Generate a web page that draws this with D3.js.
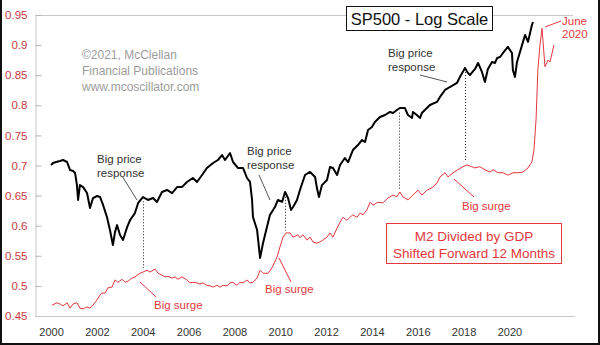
<!DOCTYPE html>
<html><head><meta charset="utf-8">
<script src="https://cdn.jsdelivr.net/npm/d3@7"></script>
<style>
body{margin:0;background:#fff}
svg{display:block;font-family:"Liberation Sans",Arial,sans-serif}
</style>
</head><body>
<svg id="c" width="600" height="345"></svg>
<script>
// ---------- data ----------
const yearTicks = [2000,2002,2004,2006,2008,2010,2012,2014,2016,2018,2020];
const ratioTicks = [0.45,0.5,0.55,0.6,0.65,0.7,0.75,0.8,0.85,0.9,0.95];

// SP500 (log scale, no axis shown)
const spDates = [2000.00,2000.09,2000.22,2000.39,2000.52,2000.70,2000.83,2000.96,2001.05,2001.13,2001.18,2001.26,2001.40,2001.57,2001.70,2001.83,2002.01,2002.14,2002.27,2002.44,2002.57,2002.70,2002.79,2002.88,2003.01,2003.14,2003.32,2003.45,2003.66,2003.80,2004.01,2004.23,2004.45,2004.62,2004.84,2005.06,2005.28,2005.50,2005.71,2005.93,2006.19,2006.37,2006.59,2006.80,2007.07,2007.28,2007.46,2007.59,2007.81,2007.94,2008.16,2008.38,2008.55,2008.68,2008.77,2008.81,2008.99,2009.12,2009.25,2009.42,2009.55,2009.77,2009.90,2010.08,2010.21,2010.34,2010.47,2010.56,2010.73,2010.86,2011.08,2011.30,2011.52,2011.60,2011.69,2011.82,2012.04,2012.17,2012.30,2012.48,2012.61,2012.82,2012.96,2013.17,2013.39,2013.57,2013.70,2013.83,2014.00,2014.13,2014.35,2014.57,2014.79,2014.92,2015.09,2015.22,2015.44,2015.57,2015.75,2015.79,2015.96,2016.10,2016.18,2016.31,2016.53,2016.84,2016.97,2017.19,2017.40,2017.71,2017.84,2018.06,2018.19,2018.28,2018.50,2018.63,2018.80,2018.93,2019.06,2019.24,2019.37,2019.46,2019.59,2019.72,2019.93,2020.11,2020.15,2020.24,2020.33,2020.46,2020.59,2020.68,2020.81,2020.98,2021.03];
const spValues = [1470,1490,1500,1510,1520,1500,1422,1413,1394,1287,1166,1287,1270,1221,1106,1181,1197,1189,1128,1041,955,865,942,987,924,894,974,1021,1069,1143,1189,1166,1181,1151,1229,1246,1221,1270,1270,1314,1349,1314,1376,1441,1490,1520,1571,1520,1592,1500,1441,1441,1349,1314,1166,1041,955,794,877,974,1055,1113,1166,1151,1229,1181,1091,1113,1166,1246,1376,1404,1358,1262,1189,1287,1331,1451,1441,1376,1470,1540,1500,1624,1679,1736,1713,1855,1892,1956,2022,2049,2091,2077,2118,2146,2146,2049,2009,2091,2049,2009,2077,2118,2190,2235,2310,2419,2467,2534,2637,2799,2708,2672,2781,2894,2726,2551,2781,2913,2894,2990,3010,3092,3219,3092,2762,2637,2913,3113,3328,3485,3328,3722,3797];

// M2 divided by GDP, shifted forward 12 months (left axis)
const m2Dates = [2000.04,2000.26,2000.39,2000.52,2000.70,2000.83,2000.96,2001.13,2001.26,2001.40,2001.57,2001.70,2001.83,2002.01,2002.14,2002.22,2002.36,2002.49,2002.66,2002.79,2002.92,2003.10,2003.23,2003.36,2003.53,2003.66,2003.88,2004.01,2004.19,2004.32,2004.54,2004.67,2004.84,2004.97,2005.10,2005.28,2005.41,2005.54,2005.71,2005.93,2006.06,2006.19,2006.37,2006.50,2006.63,2006.80,2006.94,2007.07,2007.24,2007.37,2007.50,2007.68,2007.81,2007.94,2008.11,2008.24,2008.38,2008.55,2008.68,2008.81,2008.99,2009.12,2009.25,2009.47,2009.64,2009.86,2009.99,2010.12,2010.25,2010.43,2010.56,2010.77,2010.86,2010.99,2011.17,2011.30,2011.43,2011.60,2011.73,2011.86,2012.04,2012.17,2012.30,2012.48,2012.61,2012.74,2012.91,2013.04,2013.17,2013.35,2013.48,2013.61,2013.78,2013.92,2014.05,2014.26,2014.48,2014.70,2014.92,2015.09,2015.22,2015.35,2015.57,2015.79,2016.01,2016.18,2016.40,2016.62,2016.84,2016.97,2017.19,2017.32,2017.54,2017.75,2017.97,2018.15,2018.36,2018.49,2018.71,2018.93,2019.15,2019.28,2019.50,2019.72,2019.93,2020.15,2020.37,2020.59,2020.81,2020.98,2021.07,2021.16,2021.24,2021.33,2021.42,2021.55,2021.68,2021.77,2021.94];
const m2Values = [0.468,0.472,0.470,0.467,0.472,0.463,0.470,0.472,0.463,0.462,0.465,0.463,0.468,0.477,0.485,0.488,0.488,0.497,0.498,0.510,0.506,0.511,0.506,0.508,0.513,0.515,0.521,0.523,0.526,0.523,0.528,0.521,0.518,0.515,0.516,0.513,0.515,0.511,0.515,0.510,0.505,0.506,0.505,0.503,0.505,0.501,0.500,0.498,0.501,0.498,0.501,0.500,0.505,0.506,0.501,0.506,0.505,0.510,0.505,0.506,0.513,0.526,0.521,0.521,0.530,0.548,0.565,0.581,0.588,0.588,0.581,0.585,0.580,0.585,0.576,0.581,0.573,0.571,0.573,0.576,0.581,0.588,0.581,0.596,0.606,0.614,0.609,0.614,0.618,0.614,0.621,0.618,0.626,0.639,0.634,0.639,0.638,0.646,0.651,0.648,0.656,0.648,0.643,0.651,0.659,0.651,0.659,0.663,0.671,0.681,0.688,0.681,0.688,0.693,0.698,0.701,0.698,0.696,0.698,0.693,0.689,0.693,0.688,0.688,0.684,0.688,0.688,0.689,0.696,0.706,0.726,0.776,0.859,0.900,0.928,0.864,0.875,0.872,0.900];

// dates where price response is linked to the M2 surge
const linkDates = [2004.0, 2010.2, 2015.18, 2018.06];

// ---------- drawing ----------
const W = 600, H = 345;
const RED = "#e2383e";
const svg = d3.select("#c");

const x = d3.scaleLinear().domain([1999.3, 2022.86]).range([35, 575]);
const yL = d3.scaleLinear().domain([0.45, 0.95]).range([316, 15]);
const yS = d3.scaleLog().domain([783, 3848]).range([260, 20]);

svg.append("rect").attr("width", W).attr("height", H).attr("fill", "#fff");

// frame
svg.append("path").attr("d", "M1,0V344H599V0").attr("fill", "none")
  .attr("stroke", "#111").attr("stroke-width", 2);

// plot top & bottom lines
svg.append("line").attr("x1", 35).attr("x2", 573).attr("y1", 15.5).attr("y2", 15.5)
  .attr("stroke", "#c8c8c8");

// y axis
const gy = svg.append("g").attr("transform", "translate(35.5,0)")
  .call(d3.axisLeft(yL).tickValues(ratioTicks).tickSize(-6).tickPadding(8)
    .tickFormat(d => String(+d.toFixed(2))));
gy.select(".domain").attr("stroke", "#c8c8c8");
gy.selectAll(".tick line").attr("stroke", "#b8b8b8");
gy.selectAll("text").attr("fill", "#c83a3f").style("font-size", "11.5px")
  .style("font-family", '"Liberation Sans",Arial,sans-serif');

// x axis
const gx = svg.append("g").attr("transform", "translate(0,316.5)")
  .call(d3.axisBottom(x).tickValues(yearTicks).tickSize(0).tickPadding(12)
    .tickFormat(d3.format("d")));
gx.select(".domain").attr("d", "M35,0H575").attr("stroke", "#c8c8c8");
gx.selectAll("text").attr("fill", "#333").style("font-size", "11px")
  .style("font-family", '"Liberation Sans",Arial,sans-serif');

// copyright
const cp = ["\u00A92021, McClellan", "Financial Publications", "www.mcoscillator.com"];
svg.append("g").selectAll("text").data(cp).join("text")
  .attr("x", 82).attr("y", (d, i) => 59 + i * 15.8)
  .attr("fill", "#9c9c9c").style("font-size", "12px").text(d => d);

// title box
svg.append("rect").attr("x", 346.5).attr("y", 6.5).attr("width", 146).attr("height", 24)
  .attr("fill", "#fff").attr("stroke", "#111").attr("stroke-width", 1);
svg.append("text").attr("x", 419.5).attr("y", 25).attr("text-anchor", "middle")
  .attr("fill", "#111").style("font-size", "16.5px").text("SP500 - Log Scale");

// dotted link lines
function interpAt(ds, vs, d) {
  const i = d3.bisectLeft(ds, d);
  if (i <= 0) return vs[0];
  if (i >= ds.length) return vs[vs.length - 1];
  const t = (d - ds[i - 1]) / (ds[i] - ds[i - 1]);
  return vs[i - 1] + t * (vs[i] - vs[i - 1]);
}
svg.append("g").selectAll("line").data(linkDates).join("line")
  .attr("x1", d => Math.round(x(d)) + 0.5).attr("x2", d => Math.round(x(d)) + 0.5)
  .attr("y1", d => yS(interpAt(spDates, spValues, d)) + 4)
  .attr("y2", d => yL(interpAt(m2Dates, m2Values, d)) - 4)
  .attr("stroke", "#222").attr("stroke-width", 1).attr("stroke-dasharray", "1,2");

// M2 line
svg.append("path").datum(d3.zip(m2Dates, m2Values))
  .attr("fill", "none").attr("stroke", RED).attr("stroke-width", 1)
  .attr("stroke-linejoin", "round")
  .attr("d", d3.line().x(d => x(d[0])).y(d => yL(d[1])));

// SP500 line
svg.append("path").datum(d3.zip(spDates, spValues))
  .attr("fill", "none").attr("stroke", "#000").attr("stroke-width", 2)
  .attr("stroke-linejoin", "round")
  .attr("d", d3.line().x(d => x(d[0])).y(d => yS(d[1])));

// annotations: "Big price response"
const priceNotes = [
  {tx: 97, ty: 163, l: [122, 176, 137, 200]},
  {tx: 247, ty: 155, l: [259, 175, 270, 200]},
  {tx: 388, ty: 57, l: [420, 75, 447, 82]}
];
const pn = svg.append("g");
priceNotes.forEach(n => {
  pn.append("text").attr("x", n.tx).attr("y", n.ty).attr("fill", "#333")
    .style("font-size", "11.5px").text("Big price");
  pn.append("text").attr("x", n.tx).attr("y", n.ty + 13.5).attr("fill", "#333")
    .style("font-size", "11.5px").text("response");
  pn.append("line").attr("x1", n.l[0]).attr("y1", n.l[1]).attr("x2", n.l[2]).attr("y2", n.l[3])
    .attr("stroke", "#555").attr("stroke-width", 1);
});

// annotations: "Big surge"
const surgeNotes = [
  {tx: 154, ty: 309, l: [140, 282, 156, 297]},
  {tx: 265, ty: 293, l: [279, 258, 291, 282]},
  {tx: 462, ty: 210, l: [454, 179, 474, 197]}
];
const sn = svg.append("g");
surgeNotes.forEach(n => {
  sn.append("text").attr("x", n.tx).attr("y", n.ty).attr("fill", RED)
    .style("font-size", "11.5px").text("Big surge");
  sn.append("line").attr("x1", n.l[0]).attr("y1", n.l[1]).attr("x2", n.l[2]).attr("y2", n.l[3])
    .attr("stroke", RED).attr("stroke-width", 1);
});

// legend box
svg.append("rect").attr("x", 386.5).attr("y", 223.5).attr("width", 175).attr("height", 40)
  .attr("fill", "#fff").attr("stroke", RED).attr("stroke-width", 1);
svg.append("text").attr("x", 474).attr("y", 241).attr("text-anchor", "middle")
  .attr("fill", RED).style("font-size", "13.5px").text("M2 Divided by GDP");
svg.append("text").attr("x", 474).attr("y", 258).attr("text-anchor", "middle")
  .attr("fill", RED).style("font-size", "13.5px").text("Shifted Forward 12 Months");

// June 2020 note
svg.append("line").attr("x1", 545).attr("y1", 27).attr("x2", 561).attr("y2", 21)
  .attr("stroke", RED).attr("stroke-width", 1);
svg.append("text").attr("x", 562).attr("y", 25).attr("fill", RED)
  .style("font-size", "11.5px").text("June");
svg.append("text").attr("x", 562).attr("y", 38).attr("fill", RED)
  .style("font-size", "11.5px").text("2020");
</script>
</body></html>
